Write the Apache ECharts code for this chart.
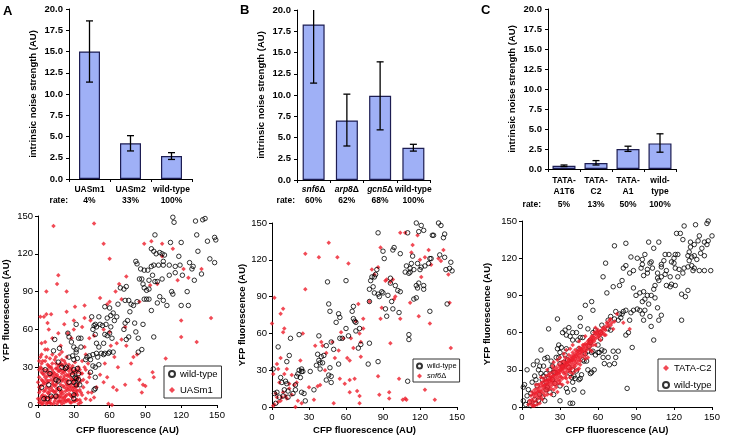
<!DOCTYPE html>
<html><head><meta charset="utf-8">
<script src="https://cdn.jsdelivr.net/npm/echarts@6/dist/echarts.min.js"></script>
<style>html,body{margin:0;padding:0;background:#fff}#c{width:733px;height:438px}</style>
</head><body><div id="c"></div>
<script>
// ---------- Bar panels ----------
const catA = ['UASm1', 'UASm2', 'wild-type'];
const rateA = ['4%', '33%', '100%'];
const valA = [15.0, 4.2, 2.7];
const errLoA = [11.4, 3.3, 2.3];
const errHiA = [18.6, 5.1, 3.1];

const catB = ['snf6Δ', 'arp8Δ', 'gcn5Δ', 'wild-type'];
const rateB = ['60%', '62%', '68%', '100%'];
const valB = [18.3, 7.0, 9.9, 3.8];
const errLoB = [11.4, 4.0, 5.9, 3.4];
const errHiB = [21.5, 10.1, 13.9, 4.2];

const catC = ['TATA-\nA1T6', 'TATA-\nC2', 'TATA-\nA1', 'wild-\ntype'];
const rateC = ['5%', '13%', '50%', '100%'];
const valC = [0.4, 0.75, 2.5, 3.2];
const errLoC = [0.3, 0.5, 2.2, 2.1];
const errHiC = [0.5, 1.05, 2.85, 4.4];

const barTicks = [0, 2.5, 5, 7.5, 10, 12.5, 15, 17.5, 20];
const scatTicks = [0, 30, 60, 90, 120, 150];

// ---------- Scatter panel A ----------
const scatA_wt = [[113,149],[114,145],[132,146],[138,147],[140,148],[133,135],[98,135],[111,129],[120,129],[142,130],[134,122],[148,133],[149,131],[144,116],[148,113],[137,104],[130,110],[129,108],[127,113],[118,118],[115,110],[105,111],[101,111],[95,124],[97,122],[99,120],[102,121],[104,120],[106,119],[105,114],[110,111],[115,105],[119,111],[120,79],[126,79],[125,90],[131,99],[121,103],[110,103],[112,90],[113,88],[104,100],[100,98],[98,98],[96,103],[95,110],[97,111],[92,107],[89,107],[86,108],[85,100],[87,100],[88,96],[89,93],[91,91],[93,92],[93,99],[91,84],[89,84],[93,84],[95,75],[100,81],[102,86],[105,83],[108,79],[97,54],[88,64],[81,65],[82,58],[84,53],[83,82],[80,79],[78,80],[77,74],[82,114],[83,112],[74,94],[72,92],[73,83],[76,83],[69,93],[67,80],[73,65],[75,67],[72,60],[76,54],[74,52],[87,44],[84,42],[66,70],[64,67],[63,73],[60,77],[58,69],[56,78],[61,71],[45,70],[48,64],[49,62],[46,60],[54,63],[56,56],[60,57],[61,62],[62,53],[58,55],[57,64],[52,64],[51,70],[47,63],[48,56],[55,49],[49,49],[51,46],[59,41],[60,42],[56,41],[53,41],[49,41],[46,40],[41,38],[44,36],[46,31],[50,38],[48,30],[51,32],[43,39],[44,26],[48,22],[48,13],[47,12],[40,36],[36,46],[36,53],[32,64],[34,53],[25,57],[26,54],[28,50],[32,44],[32,42],[26,38],[29,39],[30,46],[30,36],[33,37],[23,29],[30,28],[33,29],[29,24],[32,21],[34,25],[34,20],[31,22],[35,16],[32,16],[30,18],[26,18],[24,30],[30,8],[30,5],[20,30],[17,34],[13,43],[14,52],[18,45],[17,19],[18,13],[15,20],[15,7],[11,7],[8,5],[5,5],[9,16],[10,25],[6,28],[3,14],[55,40],[63,42]];
const scatA_uas = [[1,2],[2,5],[3,1],[4,8],[5,3],[6,12],[7,6],[8,2],[9,9],[10,4],[11,14],[12,7],[13,1],[14,10],[15,5],[16,18],[17,3],[18,12],[19,8],[20,1],[21,15],[22,6],[23,11],[24,3],[25,19],[26,9],[27,2],[28,14],[29,6],[30,11],[31,3],[32,16],[33,8],[34,1],[35,12],
[1,10],[2,15],[3,20],[4,25],[5,18],[6,22],[7,14],[8,28],[9,19],[10,23],[11,30],[12,17],[13,26],[14,21],[15,29],[16,24],[17,13],[18,27],[19,22],[20,32],[21,20],[22,26],[23,18],[24,24],[25,30],[26,14],[27,22],[28,29],[29,17],[30,25],[31,20],[32,28],[33,15],[34,22],
[2,30],[3,33],[5,28],[6,35],[8,32],[9,26],[11,20],[12,33],[13,11],[14,36],[15,16],[16,8],[17,31],[18,20],[19,3],[20,25],[21,9],[22,35],[23,28],[24,13],[25,4],[26,32],[27,16],[28,7],[29,27],[30,19],[31,34],[32,9],[33,26],[35,4],
[1,22],[2,12],[3,7],[4,16],[5,11],[6,4],[7,26],[8,18],[9,31],[10,11],[11,6],[12,24],[13,19],[14,3],[15,23],[16,13],[17,22],[18,6],[19,16],[20,11],[21,27],[22,14],[23,4],[24,20],[25,12],[26,24],[27,8],[28,20],[29,12],[30,3],[31,14],[32,22],[33,4],[34,30],
[2,3],[4,1],[6,7],[8,10],[10,2],[12,12],[14,6],[16,1],[18,3],[20,6],[22,2],[24,8],[26,4],[28,2],[30,8],[32,4],[3,26],[5,24],[7,20],[9,13],[11,25],[13,16],[15,11],[17,27],[19,10],[21,4],[23,7],[25,16],[27,12],[29,20],[31,9],[33,20],[1,14],[4,19],[6,17],[8,23],[10,30],[12,28],[14,25],[16,29],[18,32],[20,19],[22,23],[24,16],[26,27],[28,25],[30,14],[32,12],[34,17],[36,10],[38,20],[1,35],[3,29],[5,6],[7,1],[9,6],[11,1],[13,22],[15,33],[17,7],[19,33],[21,31],[23,33],[25,23],[27,29],[29,31],[31,27],[33,11],[35,28],[37,35],
[0,5],[0,18],[1,28],[4,35],[7,38],[10,37],[3,40],[6,44],[12,40],[15,38],[18,40],[20,36],[24,38],[9,2],[14,15],[19,28],[22,21],[36,25],[37,8],[38,14],[39,30],[40,5],[36,2],[41,18],[42,10],[43,25],
[13,142],[47,144],[55,128],[60,116],[17,103],[16,96],[7,90],[24,90],[24,74],[2,70],[5,70],[7,72],[8,65],[11,72],[9,60],[12,53],[3,49],[8,44],[6,50],[2,38],[19,47],[20,42],[22,64],[17,57],[30,67],[31,78],[39,79],[43,53],[44,67],[52,85],[58,80],[60,82],[65,90],[70,84],[74,102],[68,96],[85,82],[94,95],[89,128],[95,130],[104,128],[113,124],[104,118],[117,99],[126,101],[137,108],[145,69],[133,50],[120,54],[120,67],[107,37],[100,96],[122,108],[73,62],[70,52],[66,49],[60,58],[61,47],[55,60],[47,55],[39,69],[37,62],[30,60],[28,53],[25,57],[40,40],[39,46],[42,33],[40,28],[37,25],[36,19],[43,22],[45,10],[44,4],[47,6],[52,24],[55,18],[58,22],[62,0],[59,1],[63,14],[66,12],[67,30],[73,16],[78,33],[80,38],[85,20],[88,16],[87,10],[90,15],[96,26],[97,22],[83,40],[74,47],[64,38],[56,33],[49,14]];

// ---------- Scatter panel B ----------
const scatB_wt = [[117,150],[135,150],[137,148],[121,148],[123,144],[119,143],[86,142],[110,142],[130,140],[140,141],[139,138],[136,124],[140,122],[145,118],[144,113],[146,111],[141,112],[128,121],[127,117],[124,115],[121,114],[120,112],[118,117],[115,112],[112,113],[113,117],[114,123],[104,125],[99,130],[98,128],[90,127],[91,121],[85,112],[84,108],[83,106],[81,106],[80,103],[82,98],[83,93],[86,92],[87,90],[89,94],[90,93],[94,91],[96,101],[97,86],[98,80],[92,80],[93,74],[96,105],[100,99],[102,95],[104,94],[103,77],[108,110],[109,115],[111,109],[112,110],[117,99],[118,97],[119,101],[123,99],[123,96],[128,78],[129,121],[131,140],[142,84],[111,59],[111,55],[117,89],[115,88],[110,21],[86,37],[78,35],[79,86],[79,96],[79,52],[72,51],[71,64],[70,48],[66,72],[67,70],[66,82],[68,69],[68,62],[65,78],[60,64],[62,58],[60,103],[57,56],[55,56],[54,35],[54,76],[55,73],[52,69],[50,47],[46,84],[45,102],[47,78],[48,53],[48,25],[48,20],[46,26],[47,32],[44,50],[44,22],[42,42],[40,41],[38,38],[38,58],[37,43],[39,31],[36,34],[39,36],[41,36],[34,14],[31,29],[25,29],[24,29],[22,30],[21,27],[20,25],[24,31],[23,24],[22,59],[19,18],[19,14],[15,56],[14,42],[12,37],[11,21],[12,19],[9,9],[8,20],[10,14],[7,24],[5,49],[4,12],[2,11],[1,31],[3,3],[6,8],[13,8],[24,12],[27,5],[26,11],[13,13],[17,11]];
const scatB_snf = [[46,134],[53,122],[62,117],[38,122],[27,125],[27,96],[2,89],[0,68],[9,80],[10,64],[9,61],[7,76],[1,27],[4,35],[5,31],[7,40],[12,31],[16,26],[20,20],[23,38],[25,60],[30,16],[35,50],[40,53],[41,50],[44,44],[43,30],[49,53],[51,40],[54,46],[56,61],[58,56],[61,40],[63,38],[66,48],[64,56],[68,70],[70,84],[74,72],[74,64],[72,41],[72,53],[71,60],[71,9],[71,3],[69,13],[67,23],[63,22],[63,12],[59,19],[55,23],[50,3],[39,18],[37,17],[34,6],[24,3],[19,0],[21,5],[18,18],[16,10],[14,15],[12,7],[11,9],[9,12],[7,5],[5,4],[4,8],[3,11],[2,2],[1,1],[10,27],[6,20],[14,19],[8,8],[79,86],[81,112],[83,108],[86,114],[88,130],[88,72],[89,81],[86,25],[87,10],[92,103],[93,104],[96,102],[96,52],[95,12],[95,7],[100,90],[104,142],[108,142],[104,72],[106,6],[108,7],[109,6],[112,85],[113,126],[114,132],[118,140],[120,120],[119,74],[121,106],[124,122],[124,14],[127,128],[128,68],[129,116],[132,6],[135,121],[137,119],[139,128],[143,108],[144,85],[145,48],[103,23],[98,104],[99,88]];

// ---------- Scatter panel C ----------
const scatC_wt = [[137,147],[146,148],[140,138],[147,150],[150,138],[147,134],[146,131],[144,133],[142,128],[139,134],[136,131],[133,133],[133,129],[132,125],[131,122],[134,121],[132,118],[134,114],[136,112],[138,119],[141,124],[144,122],[149,110],[144,110],[140,110],[135,110],[131,113],[128,112],[127,108],[124,111],[123,105],[121,112],[120,120],[120,116],[118,117],[121,123],[123,123],[116,123],[113,123],[112,118],[110,115],[114,110],[117,105],[118,99],[114,98],[110,105],[107,108],[107,104],[105,98],[104,95],[108,102],[103,112],[102,117],[101,116],[99,111],[99,108],[96,106],[94,112],[95,115],[91,120],[86,121],[88,110],[85,108],[82,114],[80,112],[100,133],[104,128],[108,133],[122,140],[128,146],[127,135],[125,140],[136,122],[131,94],[129,89],[126,91],[126,70],[121,98],[117,97],[113,107],[110,113],[97,123],[95,119],
[73,130],[82,132],[66,116],[64,105],[67,92],[72,97],[77,98],[79,102],[88,96],[90,90],[93,92],[96,93],[99,90],[100,83],[101,73],[102,65],[96,70],[95,75],[93,78],[91,79],[95,85],[97,78],[97,87],[102,90],[105,88],[107,80],[110,74],[108,70],[104,54],[87,48],[84,60],[82,58],[85,70],[88,78],[86,76],[82,78],[80,77],[79,75],[77,75],[78,72],[76,70],[73,71],[74,77],[70,73],[68,70],[70,62],[68,63],[63,66],[62,55],[63,46],[61,44],[64,40],[68,40],[69,34],[65,35],[60,44],[58,42],[56,45],[54,52],[54,54],[55,44],[53,49],[50,43],[52,63],[56,78],[55,85],[50,82],[46,72],[46,56],[45,47],[44,54],[43,60],[40,60],[40,54],[38,57],[37,64],[35,58],[34,62],[32,60],[31,48],[29,50],[28,47],[30,44],[28,71],[21,63],[20,40],[18,39],[15,46],[12,37],[9,34],[4,30],[2,18],[1,16],[1,5],[3,2],[4,9],[6,4],[5,14],[7,11],[8,20],[10,25],[11,22],[12,17],[13,30],[14,33],[15,27],[16,22],[17,25],[17,33],[19,27],[19,20],[20,16],[21,23],[22,30],[23,37],[24,33],[25,28],[24,22],[26,19],[27,40],[29,40],[30,35],[32,33],[33,36],[34,42],[36,38],[35,47],[37,32],[38,27],[39,24],[40,30],[41,25],[42,23],[43,29],[45,22],[46,23],[47,26],[48,38],[49,37],[52,30],[51,37],[54,27],[55,28],[57,30],[52,45],[48,56],[46,65],[40,3],[38,3],[30,5],[25,10],[22,12],[19,14],[16,8],[13,5],[10,6],[7,1],[11,3],[14,10],[18,5],[35,15],[40,20],[48,12],[41,14],[30,17],[26,28],[36,12],[83,15],[72,45],[76,45],[73,35],[74,40],[65,45],[60,50],[62,60],[58,62],[56,60]];
const scatC_c2 = [[5,2],[6,5],[7,3],[7,9],[8,6],[8,12],[9,4],[9,10],[10,8],[10,14],[11,5],[11,11],[12,9],[12,15],[13,7],[13,13],[13,18],[14,10],[14,16],[15,12],[15,8],[15,19],[16,14],[16,20],[17,11],[17,17],[17,23],[18,15],[18,21],[19,13],[19,18],[19,25],[20,16],[20,22],[21,19],[21,14],[21,26],[22,21],[22,17],[22,27],[23,20],[23,24],[23,15],[24,22],[24,28],[24,18],[25,25],[25,20],[25,31],[26,23],[26,29],[26,18],[27,26],[27,21],[27,32],[28,24],[28,30],[28,19],[29,27],[29,22],[29,34],[30,28],[30,25],[30,32],[31,30],[31,24],[31,36],[32,29],[32,33],[32,23],[33,31],[33,27],[33,37],[34,33],[34,28],[34,40],[35,31],[35,36],[35,26],[36,34],[36,39],[36,29],[37,35],[37,31],[37,42],[38,37],[38,33],[38,28],[39,36],[39,41],[39,31],[40,38],[40,34],[40,44],[41,37],[41,32],[41,42],[42,39],[42,35],[42,46],[43,41],[43,37],[44,40],[44,45],[44,35],[45,42],[45,38],[45,48],[46,44],[46,40],[47,43],[47,47],[48,45],[48,41],[48,50],[49,46],[50,48],[50,44],[51,50],[51,46],[52,48],[52,53],[53,51],[54,49],[54,55],[55,52],[56,54],[56,50],[57,56],[57,60],[58,55],[59,58],[60,56],[61,60],[62,58],[63,62],[64,60],[65,63],[66,62],[67,68],[68,65],[69,70],[70,66],[71,68],[72,63],[73,69],[75,75],[60,62],[58,64],[55,57],[65,58],[45,31],[50,39],[35,23],[30,19],[25,14],[20,10],[12,2],[10,1],[14,3],[8,1],[18,9],[28,12],[32,18],[40,27],[44,30],[52,40],[55,45],[46,34],[42,29],[38,24],[36,20],[27,16],[23,10],[16,6],[9,1],[20,30],[25,36],[30,40],[35,46],[40,50],[45,53],[50,57],[38,47],[33,43],[28,38],[24,33],[15,24],[11,18],[85,63],[80,68],
[10,11],[12,12],[14,13],[16,17],[18,18],[20,19],[22,24],[24,25],[26,26],[28,27],[30,30],[32,31],[34,35],[36,36],[38,39],[40,40],[42,42],[44,43],[46,47],[48,48],[50,51],[52,51],[54,52],[56,57],[58,59],[60,59],[62,61],[64,64],[66,65],[68,67],[70,71],[19,21],[21,22],[23,22],[27,28],[29,29],[31,33],[33,34],[35,33],[37,38],[39,38],[41,40],[43,44],[45,46],[47,45],[49,50],[53,54],[55,54],[57,53],[59,61],[61,57],[63,59],[30,21],[34,24],[38,30],[42,33],[46,37],[50,42],[54,46],[58,50],[62,54],[66,58]];

// ---------- Build chart ----------
const FONT = '"Liberation Sans", Arial, Helvetica, sans-serif';
const BLACK = '#000';
const BAR_FILL = '#9fb0f6';
const BAR_EDGE = '#1d1d52';
const RED = '#ee1d2b';

const chart = echarts.init(document.getElementById('c'), null, {renderer: 'canvas'});

function barY(grid) {
  return {
    gridIndex: grid, type: 'value', min: 0, max: 20, interval: 2.5,
    name: 'intrinsic noise strength (AU)', nameLocation: 'middle', nameGap: 31, nameRotate: 90,
    nameTextStyle: {fontFamily: FONT, fontWeight: 'bold', fontSize: 9.5, color: BLACK},
    axisLine: {show: true, lineStyle: {color: BLACK, width: 1}},
    axisTick: {show: true, length: 3, lineStyle: {color: BLACK}},
    splitLine: {show: false},
    axisLabel: {fontFamily: FONT, fontWeight: 'bold', fontSize: 9.5, color: BLACK, margin: 6,
      formatter: v => Number(v).toFixed(1)}
  };
}
const richBase = {
  n: {fontFamily: FONT, fontWeight: 'bold', fontSize: 8.5, color: BLACK, lineHeight: 11},
  ni: {fontFamily: FONT, fontWeight: 'bold', fontStyle: 'italic', fontSize: 8.5, color: BLACK, lineHeight: 11},
  r: {fontFamily: FONT, fontWeight: 'bold', fontSize: 8.5, color: BLACK, lineHeight: 11},
  r2: {fontFamily: FONT, fontWeight: 'bold', fontSize: 8.5, color: BLACK, lineHeight: 15}
};
function catName(v) {
  return v.split('\n').map(s => {
    const m = s.match(/^(.*)Δ$/);
    return m ? `{ni|${m[1]}}{n|Δ}` : `{n|${s}}`;
  }).join('\n');
}
function barX(grid, cats, rates, margin, rkey) {
  return {
    gridIndex: grid, type: 'category', data: cats,
    axisLine: {show: true, lineStyle: {color: BLACK, width: 1}},
    axisTick: {show: true, alignWithLabel: false, length: 3, lineStyle: {color: BLACK}},
    axisLabel: {interval: 0, margin: margin, rich: richBase,
      formatter: (v, i) => catName(v) + `\n{${rkey}|${rates[i]}}`}
  };
}
function scatAxis(grid, name, gap, isY) {
  const a = {
    gridIndex: grid, type: 'value', min: 0, max: 150, interval: 30,
    name: name, nameLocation: 'middle', nameGap: gap,
    nameTextStyle: {fontFamily: FONT, fontWeight: 'bold', fontSize: 9.5, color: BLACK},
    axisLine: {show: true, lineStyle: {color: BLACK, width: 1}},
    axisTick: {show: true, length: 3, lineStyle: {color: BLACK}},
    splitLine: {show: false},
    axisLabel: {fontFamily: FONT, fontSize: 9.5, color: BLACK, margin: 5}
  };
  if (isY) a.nameRotate = 90;
  return a;
}
function errRender(params, api) {
  const x = api.value(0), lo = api.value(1), hi = api.value(2);
  const p1 = api.coord([x, lo]);
  const p2 = api.coord([x, hi]);
  const w = 3.5;
  const st = {stroke: BLACK, lineWidth: 1.3};
  return {type: 'group', children: [
    {type: 'line', shape: {x1: p1[0], y1: p1[1], x2: p2[0], y2: p2[1]}, style: st},
    {type: 'line', shape: {x1: p1[0] - w, y1: p1[1], x2: p1[0] + w, y2: p1[1]}, style: st},
    {type: 'line', shape: {x1: p2[0] - w, y1: p2[1], x2: p2[0] + w, y2: p2[1]}, style: st}
  ]};
}
function errData(lo, hi) { return lo.map((l, i) => [i, l, hi[i]]); }
function barSeries(ax, vals, w) {
  return {type: 'bar', xAxisIndex: ax, yAxisIndex: ax, data: vals, barWidth: w,
    itemStyle: {color: BAR_FILL, borderColor: BAR_EDGE, borderWidth: 1.2}, silent: true};
}
function errSeries(ax, lo, hi) {
  return {type: 'custom', xAxisIndex: ax, yAxisIndex: ax, data: errData(lo, hi), clip: true,
    renderItem: errRender, encode: {x: 0, y: [1, 2]}, z: 5, silent: true};
}
const wtStyle = {symbol: 'circle', symbolSize: 4.5, itemStyle: {color: 'rgba(0,0,0,0)', borderColor: BLACK, borderWidth: 1}};
const redStyle = {symbol: 'diamond', symbolSize: 4.5, itemStyle: {color: RED}};
function scat(ax, name, data, style, z) {
  return Object.assign({type: 'scatter', name: name, xAxisIndex: ax, yAxisIndex: ax, data: data, z: z, silent: true, animation: false}, JSON.parse(JSON.stringify(style)));
}
function legend(left, top, names, fs, pad, gap, iw) {
  return {
    left: left, top: top, orient: 'vertical', data: names, selectedMode: false,
    backgroundColor: '#fff', borderColor: '#333', borderWidth: 1, borderRadius: 0,
    padding: pad, itemGap: gap, itemWidth: iw, itemHeight: iw, z: 20,
    formatter: n => { const m = n.match(/^(.*)Δ$/); return m ? `{i|${m[1]}}Δ` : n; },
    textStyle: {fontFamily: FONT, fontSize: fs, color: BLACK, padding: [0, 0, 0, 0],
      rich: {i: {fontFamily: FONT, fontSize: fs, fontStyle: 'italic', color: BLACK}}}
  };
}

const option = {
  animation: false,
  backgroundColor: '#fff',
  grid: [
    {left: 69, top: 9, width: 123, height: 170},
    {left: 297, top: 10, width: 133, height: 170},
    {left: 548, top: 9, width: 128, height: 160},
    {left: 33, top: 216, width: 184, height: 189},
    {left: 272, top: 223, width: 185, height: 184},
    {left: 522, top: 221, width: 190, height: 186}
  ],
  xAxis: [
    barX(0, catA, rateA, 5.5, 'r'),
    barX(1, catB, rateB, 4.5, 'r'),
    barX(2, catC, rateC, 6.5, 'r2'),
    scatAxis(3, 'CFP fluorescence (AU)', 20, false),
    scatAxis(4, 'CFP fluorescence (AU)', 18, false),
    scatAxis(5, 'CFP fluorescence (AU)', 18, false)
  ],
  yAxis: [
    barY(0), barY(1), barY(2),
    scatAxis(3, 'YFP fluorescence (AU)', 27, true),
    scatAxis(4, 'YFP fluorescence (AU)', 25, true),
    scatAxis(5, 'YFP fluorescence (AU)', 30, true)
  ],
  legend: [
    legend(164, 366, ['wild-type', 'UASm1'], 9.5, [3, 4, 3, 4], 6, 6),
    legend(413, 359, ['wild-type', 'snf6Δ'], 7.5, [3, 3, 2, 3], 2, 5),
    legend(658, 359, ['TATA-C2', 'wild-type'], 9.5, [4, 4, 1, 4], 7, 6)
  ],
  series: [
    barSeries(0, valA, 21), errSeries(0, errLoA, errHiA),
    barSeries(1, valB, 22), errSeries(1, errLoB, errHiB),
    barSeries(2, valC, 23), errSeries(2, errLoC, errHiC),
    scat(3, 'UASm1', scatA_uas, redStyle, 2),
    scat(3, 'wild-type', scatA_wt, wtStyle, 3),
    scat(4, 'snf6Δ', scatB_snf, redStyle, 2),
    scat(4, 'wild-type', scatB_wt, wtStyle, 3),
    scat(5, 'wild-type', scatC_wt, wtStyle, 2),
    scat(5, 'TATA-C2', scatC_c2, redStyle, 3)
  ],
  graphic: [
    {type: 'text', left: 3, top: 5, style: {text: 'A', font: 'bold 13px ' + FONT, fill: BLACK}},
    {type: 'text', left: 240, top: 4, style: {text: 'B', font: 'bold 13px ' + FONT, fill: BLACK}},
    {type: 'text', left: 481, top: 4, style: {text: 'C', font: 'bold 13px ' + FONT, fill: BLACK}},
    {type: 'text', right: 733 - 68, top: 196, style: {text: 'rate:', font: 'bold 8.5px ' + FONT, fill: BLACK}},
    {type: 'text', right: 733 - 295, top: 196, style: {text: 'rate:', font: 'bold 8.5px ' + FONT, fill: BLACK}},
    {type: 'text', right: 733 - 541, top: 200, style: {text: 'rate:', font: 'bold 8.5px ' + FONT, fill: BLACK}}
  ]
};
chart.setOption(option);
</script></body></html>
